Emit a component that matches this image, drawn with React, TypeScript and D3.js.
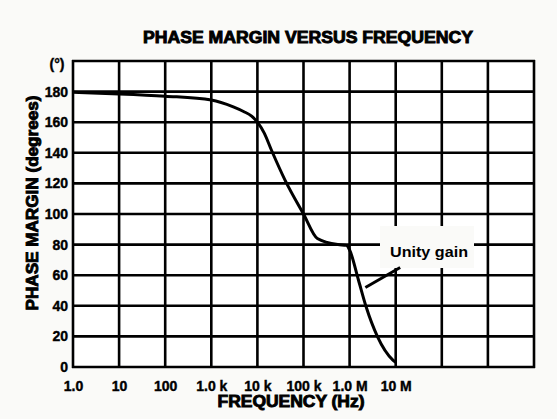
import React, { useEffect, useRef } from 'react';
import * as d3 from 'd3';

// Phase margin curve (frequency in Hz, phase in degrees)
const freqs = [1, 10, 100, 1e3, 3e3, 5e3, 7.5e3, 1e4, 1.4e4, 2e4, 4e4, 1e5, 2e5, 5.6e5, 8.5e5, 1e6, 1.55e6, 2.3e6, 4e6, 8.7e6, 1e7];
const phase = [179.5, 178.5, 177, 174.5, 170, 167, 164, 160, 153, 142, 122, 100, 84, 80, 79.5, 76.5, 57, 39, 20, 4.5, 3];

const xTickValues = [1, 10, 100, 1e3, 1e4, 1e5, 1e6, 1e7];
const xTickLabels = ['1.0', '10', '100', '1.0 k', '10 k', '100 k', '1.0 M', '10 M'];
const xGridValues = [1, 10, 100, 1e3, 1e4, 1e5, 1e6, 1e7, 1e8, 1e9, 1e10];
const yTickValues = [0, 20, 40, 60, 80, 100, 120, 140, 160, 180];
const yGridValues = [0, 20, 40, 60, 80, 100, 120, 140, 160, 180, 200];

const W = 557;
const H = 419;
const margin = { top: 61, right: 20, bottom: 52, left: 73 };
const bg = '#fafaf8';
const heavy = '"Liberation Sans", Arial, sans-serif';
const narrow = '"Liberation Sans Narrow", "Liberation Sans", Arial, sans-serif';

export default function App() {
  const svgRef = useRef<SVGSVGElement>(null);

  useEffect(() => {
    if (!svgRef.current) return;
    const svg = d3.select(svgRef.current);
    svg.selectAll('*').remove();

    svg.append('rect').attr('width', W).attr('height', H).attr('fill', bg);

    const x = d3.scaleLog().domain([1, 1e10]).range([margin.left, W - margin.right - 3]);
    const y = d3.scaleLinear().domain([0, 200]).range([H - margin.bottom, margin.top]);

    svg.append('rect')
      .attr('x', x(1)).attr('y', y(200))
      .attr('width', x(1e10) - x(1)).attr('height', y(0) - y(200))
      .attr('fill', '#ffffff');

    // grid
    const grid = svg.append('g').attr('stroke', '#000').attr('stroke-width', 2.6);
    grid.selectAll('line.v')
      .data(xGridValues)
      .join('line')
      .attr('class', 'v')
      .attr('x1', d => x(d)).attr('x2', d => x(d))
      .attr('y1', y(200) - 1).attr('y2', y(0) + 1);
    grid.selectAll('line.h')
      .data(yGridValues)
      .join('line')
      .attr('class', 'h')
      .attr('y1', d => y(d)).attr('y2', d => y(d))
      .attr('x1', x(1) - 1).attr('x2', x(1e10) + 1);

    // x tick labels
    const xAxis = svg.append('g')
      .attr('transform', `translate(0,${y(0)})`)
      .call(d3.axisBottom(x).tickValues(xTickValues).tickSize(0).tickPadding(14)
        .tickFormat((d, i) => xTickLabels[i]));
    xAxis.select('.domain').remove();
    xAxis.selectAll('text')
      .attr('font-family', narrow).attr('font-weight', 'bold').attr('font-size', 14)
      .attr('stroke', '#000').attr('stroke-width', 0.4)
      .attr('fill', '#000');

    // y tick labels
    const yAxis = svg.append('g')
      .attr('transform', `translate(${x(1)},0)`)
      .call(d3.axisLeft(y).tickValues(yTickValues).tickSize(0).tickPadding(5));
    yAxis.select('.domain').remove();
    yAxis.selectAll('text')
      .attr('font-family', narrow).attr('font-weight', 'bold').attr('font-size', 14)
      .attr('stroke', '#000').attr('stroke-width', 0.4)
      .attr('fill', '#000');

    svg.append('text')
      .attr('x', 57).attr('y', 69)
      .attr('text-anchor', 'middle')
      .attr('font-family', narrow).attr('font-weight', 'bold').attr('font-size', 14)
      .attr('stroke', '#000').attr('stroke-width', 0.4)
      .text('(°)');

    // curve
    const pts = freqs.map((f, i) => [f, phase[i]] as [number, number]);
    const line = d3.line<[number, number]>()
      .x(d => x(d[0]))
      .y(d => y(d[1]))
      .curve(d3.curveMonotoneX);
    svg.append('path')
      .datum(pts)
      .attr('fill', 'none')
      .attr('stroke', '#000')
      .attr('stroke-width', 3)
      .attr('stroke-linejoin', 'round')
      .attr('d', line);

    // unity gain annotation
    svg.append('rect')
      .attr('x', 380).attr('y', 226)
      .attr('width', 94).attr('height', 42)
      .attr('fill', bg);
    svg.append('line')
      .attr('x1', x(2.2e6)).attr('y1', y(52))
      .attr('x2', x(1.25e7)).attr('y2', y(65))
      .attr('stroke', '#000').attr('stroke-width', 3);
    svg.append('text')
      .attr('x', 390).attr('y', 257)
      .attr('font-family', heavy).attr('font-weight', 'bold').attr('font-size', 15)
      .attr('textLength', 78).attr('lengthAdjust', 'spacingAndGlyphs')
      .text('Unity gain');

    // titles
    svg.append('text')
      .attr('x', 308).attr('y', 43)
      .attr('text-anchor', 'middle')
      .attr('font-family', heavy).attr('font-weight', 900).attr('font-size', 16)
      .attr('stroke', '#000').attr('stroke-width', 0.9)
      .attr('textLength', 330).attr('lengthAdjust', 'spacingAndGlyphs')
      .text('PHASE MARGIN VERSUS FREQUENCY');

    svg.append('text')
      .attr('x', 291).attr('y', 407)
      .attr('text-anchor', 'middle')
      .attr('font-family', heavy).attr('font-weight', 900).attr('font-size', 16)
      .attr('stroke', '#000').attr('stroke-width', 0.9)
      .attr('textLength', 147).attr('lengthAdjust', 'spacingAndGlyphs')
      .text('FREQUENCY (Hz)');

    svg.append('text')
      .attr('transform', 'translate(38,203) rotate(-90)')
      .attr('text-anchor', 'middle')
      .attr('font-family', heavy).attr('font-weight', 900).attr('font-size', 16)
      .attr('stroke', '#000').attr('stroke-width', 0.9)
      .attr('textLength', 215).attr('lengthAdjust', 'spacingAndGlyphs')
      .text('PHASE MARGIN (degrees)');
  }, []);

  return (
    <svg
      ref={svgRef}
      width={W}
      height={H}
      style={{ position: 'absolute', left: 0, top: 0 }}
    />
  );
}
